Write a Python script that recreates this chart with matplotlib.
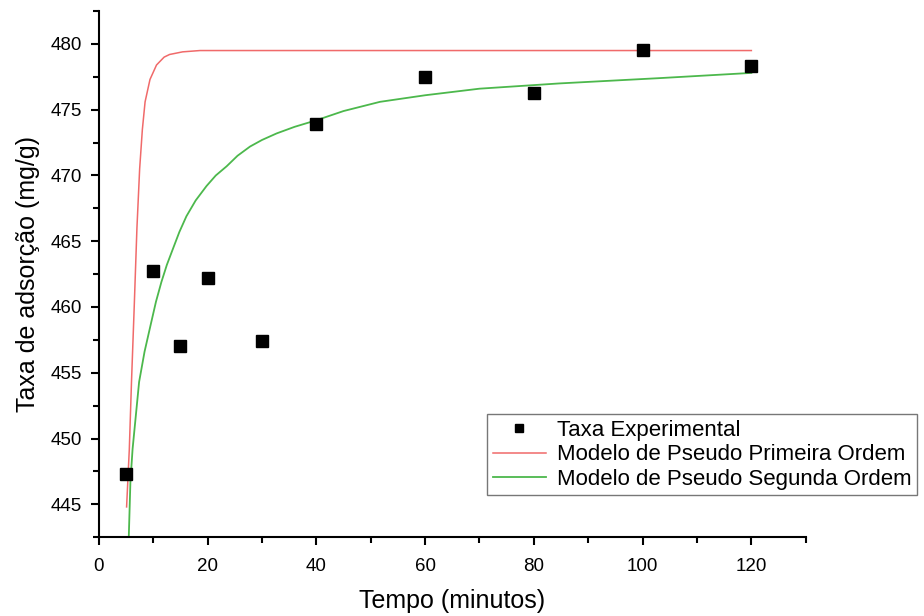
import matplotlib
matplotlib.use("Agg")
import matplotlib.pyplot as plt
from matplotlib.ticker import MultipleLocator

plt.rcParams['font.family'] = ['Liberation Sans', 'DejaVu Sans']

# Experimental data
t_exp = [5, 10, 15, 20, 30, 40, 60, 80, 100, 120]
q_exp = [447.3, 462.7, 457.0, 462.2, 457.4, 473.9, 477.5, 476.3, 479.55, 478.35]

# Pseudo first order model
t_pfo = [5.1, 5.6, 6.0, 6.5, 7.0, 7.5, 8.0, 8.5, 9.4, 10.6, 12, 13, 15.4, 18.6, 25, 120]
q_pfo = [444.8, 449.2, 454.3, 460.0, 466.0, 470.5, 473.5, 475.6, 477.3, 478.4, 479.0,
         479.2, 479.4, 479.5, 479.5, 479.5]

# Pseudo second order model
t_pso = [5.5, 5.8, 6.2, 7.4, 8.4, 9.5, 10.5, 11.5, 12.5, 13.6, 14.8, 16.1, 17.8, 19.8,
         21.5, 23.5, 25.5, 27.8, 30, 32.7, 36, 40, 45, 51.7, 60, 70, 84.7, 103, 120]
q_pso = [442.5, 446.7, 449.2, 454.3, 456.6, 458.6, 460.4, 461.9, 463.2, 464.4, 465.7,
         466.9, 468.1, 469.2, 470.0, 470.7, 471.5, 472.2, 472.7, 473.2, 473.7, 474.2,
         474.9, 475.6, 476.1, 476.6, 477.0, 477.4, 477.8]

fig = plt.figure(figsize=(9.24, 6.16), dpi=100)
ax = fig.add_axes([0.107, 0.128, 0.765, 0.854])

ax.plot(t_pfo, q_pfo, color='#f06a6a', lw=1.1, label='Modelo de Pseudo Primeira Ordem', zorder=2)
ax.plot(t_pso, q_pso, color='#4cb84c', lw=1.3, label='Modelo de Pseudo Segunda Ordem', zorder=2)
ax.plot(t_exp, q_exp, 's', color='black', ms=8, label='Taxa Experimental', zorder=3)

ax.set_xlim(0, 130)
ax.set_ylim(442.5, 482.5)
ax.xaxis.set_major_locator(MultipleLocator(20))
ax.xaxis.set_minor_locator(MultipleLocator(10))
ax.yaxis.set_major_locator(MultipleLocator(5))
ax.yaxis.set_minor_locator(MultipleLocator(2.5))
ax.tick_params(which='major', direction='out', length=6, width=1.5, labelsize=13.5, colors='black')
ax.tick_params(which='minor', direction='out', length=4, width=1.5)
ax.tick_params(axis='x', pad=9)
ax.tick_params(axis='y', pad=6)
for s in ['top', 'right']:
    ax.spines[s].set_visible(False)
for s in ['left', 'bottom']:
    ax.spines[s].set_linewidth(1.5)

ax.set_xlabel('Tempo (minutos)', fontsize=18, labelpad=10)
ax.set_ylabel('Taxa de adsorção (mg/g)', fontsize=18, labelpad=8)

handles, labels = ax.get_legend_handles_labels()
order = [2, 0, 1]
leg = ax.legend([handles[i] for i in order], [labels[i] for i in order],
                loc='lower left', bbox_to_anchor=(0.527, 0.196), bbox_transform=fig.transFigure,
                fontsize=16, frameon=True, fancybox=False, edgecolor='#555555',
                borderpad=0.25, labelspacing=0.15, handlelength=2.4, handletextpad=0.5,
                markerscale=0.8, borderaxespad=0)
leg.get_frame().set_linewidth(1.0)

fig.savefig('out.png', dpi=100)
